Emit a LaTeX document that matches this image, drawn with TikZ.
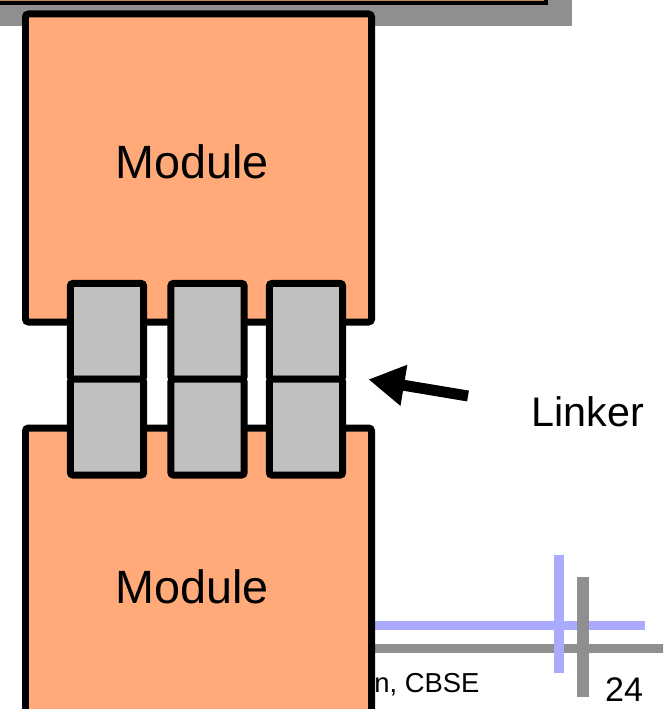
\documentclass[tikz,border=0pt]{standalone}
\usepackage{fontspec}
\setmainfont{Liberation Sans}
\usetikzlibrary{arrows.meta}
\definecolor{modfill}{RGB}{255,170,120}
\definecolor{blkfill}{RGB}{192,192,192}
\definecolor{bandgray}{RGB}{143,143,143}
\definecolor{titlefill}{RGB}{190,140,90}
\definecolor{rulerblue}{RGB}{170,170,255}

\begin{document}
\begin{tikzpicture}[x=0.02cm,y=-0.02cm,
  modbox/.style={draw,line width=0.14cm,rounded corners=0.06cm,fill=modfill},
  blk/.style={draw,line width=0.14cm,rounded corners=0.06cm,fill=blkfill,inner sep=0pt,minimum width=1.47cm,minimum height=1.92cm},
  linkarrow/.style={line width=0.22cm,-{Triangle[length=0.72cm,width=0.78cm]},shorten >=0.45cm},
  bigtext/.style={font=\fontsize{26.6}{30}\selectfont}]
\useasboundingbox (0,0) rectangle (663,709);
\clip (0,0) rectangle (663,709);

% slide header
\fill[bandgray] (0,0) rectangle (572,26);
\draw[line width=0.08cm,fill=titlefill] (-10,-40) rectangle (546,3);

% footer rulers
\draw[rulerblue,line width=0.18cm] (300,625.5) -- (645,625.5);
\draw[bandgray,line width=0.18cm] (300,648.5) -- (670,648.5);
\draw[rulerblue,line width=0.2cm] (559,555) -- (559,673);
\draw[bandgray,line width=0.24cm] (583,577) -- (583,697);
\node[anchor=base west,inner sep=0pt,font=\fontsize{15.6}{18}\selectfont] (foot) at (374,692) {n, CBSE};

% modules
\draw[modbox] (25.5,14) rectangle (371.5,322);
\draw[modbox] (25.5,428) rectangle (371.5,760);
\node[bigtext,anchor=base,inner sep=0pt] (topmod) at (192,178.3) {Module};
\node[bigtext,anchor=base,inner sep=0pt] (botmod) at (192,603.5) {Module};

% linker blocks
\foreach \x [count=\i] in {107,207.5,306} {
  \node[blk] (up\i) at (\x,331.3) {};
  \node[blk] (lo\i) at (\x,427.2) {};
}

\coordinate (tail) at (468,396);
\draw[linkarrow] (tail) -- (lo3.north east);
\node[anchor=base,inner sep=0pt,font=\fontsize{23.5}{28}\selectfont] (lnk) at (588,426.7) {Linker};

\node[anchor=base,inner sep=0pt,font=\fontsize{19.4}{22}\selectfont] (pg) at (624,701.7) {24};
\end{tikzpicture}
\end{document}
